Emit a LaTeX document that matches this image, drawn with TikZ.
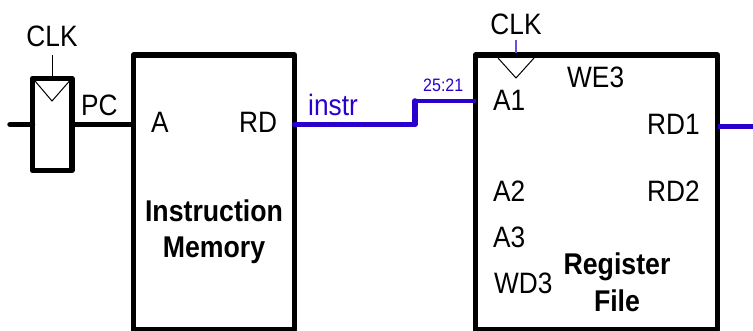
\documentclass[tikz,border=0pt]{standalone}
\usepackage{fontspec}
\setmainfont[FakeStretch=0.89]{Liberation Sans}
\definecolor{wireblue}{HTML}{2A00CC}
\definecolor{clkblue}{HTML}{6A50D8}
\tikzset{
  x=1pt,y=-1pt,
  block/.style={draw=black,line width=5.5pt,line join=round,fill=white,outer sep=0pt,inner sep=0pt,anchor=north west},
  thick wire/.style={line width=5.5pt,line join=round},
  bus/.style={thick wire,draw=wireblue},
  thin bus/.style={line width=3.8pt,draw=wireblue},
  hair/.style={line width=1pt,draw=black},
  txt/.style={inner sep=0pt,font=\fontsize{29.5}{32}\selectfont,text=black},
  lbl/.style={txt,anchor=base west},
  ctr/.style={txt,anchor=base},
  title/.style={txt,anchor=base,font=\fontsize{30}{32}\selectfont\bfseries},
}
\begin{document}
\begin{tikzpicture}
\useasboundingbox (0,0) rectangle (753,331);
% blocks
\node[block,minimum width=39.5pt,minimum height=92pt] (ff) at (32.5,78.5) {};
\node[block,minimum width=161pt,minimum height=275pt] (imem) at (133.5,55) {};
\node[block,minimum width=242pt,minimum height=275pt] (rf) at (475.5,55) {};
% pins
\coordinate (ffin) at (10,124.5);
\coordinate (ffw) at (32.5,124.5);
\coordinate (ffe) at (74,124.5);
\coordinate (imA) at (133.5,124.5);
\coordinate (imRD) at (294.5,124.5);
\coordinate (bend) at (415,124.5);
\coordinate (bendt) at (415,101);
\coordinate (rfA1) at (475.5,101);
\coordinate (rfRD1) at (717.5,126.5);
\coordinate (rfout) at (753,126.5);
\coordinate (ffclk) at (52,76);
\coordinate (ffclkt) at (52,55);
\coordinate (rfclk) at (516,53);
\coordinate (rfclkt) at (516,40);
% clock triangles
\coordinate (fft1) at (35,81);
\coordinate (fft2) at (52,101);
\coordinate (fft3) at (69.5,81);
\coordinate (rft1) at (498,58);
\coordinate (rft2) at (516,78);
\coordinate (rft3) at (534,58);
\draw[hair] (fft1) -- (fft2) -- (fft3);
\draw[hair] (rft1) -- (rft2) -- (rft3);
% labels
\node[ctr] (clka) at (52,46.5) {CLK};
\node[ctr] (clkb) at (516,35) {CLK};
\draw[hair] (ffclkt) -- (ffclk);
\draw[line width=1.2pt,draw=clkblue] (rfclkt) -- (rfclk);
% wires
\draw[thick wire,line cap=round] (ffin) -- (ffw);
\draw[thick wire] (ffe) -- (imA);
\draw[bus,line cap=round] (imRD) -- (bend) -- (bendt);
\draw[thin bus] (bendt) -- (rfA1);
\draw[bus] (rfRD1) -- (rfout);
% texts
\node[lbl] (pc) at (81,116) {PC};
\node[lbl] (a) at (151,133) {A};
\node[lbl] (rd) at (239,133) {RD};
\node[title] (im1) at (214,222) {Instruction};
\node[title] (im2) at (214,258) {Memory};
\node[lbl,text=wireblue] (instr) at (308,116) {instr};
\node[lbl,text=wireblue,font=\fontsize{18}{20}\selectfont] (bits) at (423,92) {25:21};
\node[lbl] (a1) at (493,111) {A1};
\node[lbl] (we3) at (567,88) {WE3};
\node[lbl] (rd1) at (647,135) {RD1};
\node[lbl] (rd2) at (647,202) {RD2};
\node[lbl] (a2) at (493,202) {A2};
\node[lbl] (a3) at (493,248) {A3};
\node[lbl] (wd3) at (494,294) {WD3};
\node[title] (rf1) at (617,275) {Register};
\node[title] (rf2) at (617,312) {File};
\end{tikzpicture}
\end{document}
